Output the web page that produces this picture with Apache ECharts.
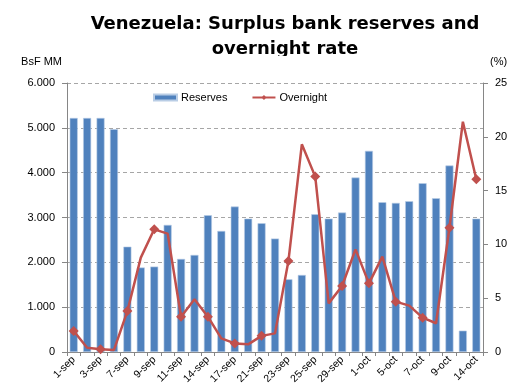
<!DOCTYPE html>
<html><head><meta charset="utf-8">
<script src="https://cdn.jsdelivr.net/npm/echarts@6/dist/echarts.min.js"></script>
<style>html,body{margin:0;padding:0;background:#fff}#c{width:516px;height:392px}</style>
</head><body><div id="c"></div>
<script>
const categories = ['1-sep','2-sep','3-sep','4-sep','7-sep','8-sep','9-sep','10-sep','11-sep','13-sep','14-sep','16-sep','17-sep','18-sep','21-sep','22-sep','23-sep','24-sep','25-sep','28-sep','29-sep','30-sep','1-oct','2-oct','5-oct','6-oct','7-oct','8-oct','9-oct','13-oct','14-oct'];
const reserves = [5220,5220,5220,4970,2350,1885,1905,2835,2076,2165,3050,2700,3244,2976,2872,2530,1622,1718,3072,2976,3110,3891,4487,3341,3326,3363,3765,3430,4159,476,2976];
const overnight = [1.95,0.4,0.25,0.19,3.8,8.77,11.4,11.0,3.28,4.9,3.28,1.27,0.8,0.71,1.5,1.73,8.45,19.3,16.3,4.52,6.13,9.54,6.38,8.86,4.68,4.31,3.19,2.67,11.55,21.4,16.05];
const leftTicks = {min:0, max:6000, interval:1000};
const rightTicks = {min:0, max:25, interval:5};

const fmtThousands = v => v === 0 ? '0' : (Math.floor(v/1000) + '.' + String(v%1000).padStart(3,'0'));
const font = 'Liberation Sans, Arial, sans-serif';
const chart = echarts.init(document.getElementById('c'));
chart.setOption({
  animation:false,
  title:{text:'Venezuela: Surplus bank reserves and\novernight rate', left:280, textAlign:'center', top:7,
    textStyle:{fontFamily:'DejaVu Sans, Verdana, sans-serif', fontWeight:'bold', fontSize:18, lineHeight:25, color:'#000'}},
  graphic:[{type:'rect', shape:{x:90,y:56,width:390,height:8}, style:{fill:'#fff'}, z:100}],
  legend:{left:148, top:87, itemGap:24, itemWidth:23, itemHeight:6,
    textStyle:{fontFamily:font, fontSize:11, color:'#000', padding:[0,0,0,-1]},
    data:[{name:'Reserves', icon:'rect'},{name:'Overnight'}]},
  grid:{left:67, right:33, top:83, bottom:40, containLabel:false},
  xAxis:{type:'category', data:categories, boundaryGap:true,
    axisLine:{lineStyle:{color:'#868686'}},
    axisTick:{show:true, interval:0, length:4, lineStyle:{color:'#868686'}},
    axisLabel:{interval:1, rotate:45, fontFamily:font, fontSize:10.5, color:'#000', margin:6}},
  yAxis:[
    {type:'value', name:'BsF MM', nameLocation:'end', nameGap:16, nameTextStyle:{fontFamily:font, fontSize:11, color:'#000', align:'right', padding:[0,5,0,0]},
      min:leftTicks.min, max:leftTicks.max, interval:leftTicks.interval, position:'left',
      axisLine:{show:true, lineStyle:{color:'#868686'}},
      axisTick:{show:true, length:5, lineStyle:{color:'#868686'}},
      axisLabel:{formatter:fmtThousands, fontFamily:font, fontSize:11, color:'#000', margin:12},
      splitLine:{show:true, lineStyle:{color:'#a6a6a6', type:[4,3]}}},
    {type:'value', name:'(%)', nameLocation:'end', nameGap:16, nameTextStyle:{fontFamily:font, fontSize:11, color:'#000', align:'left', padding:[0,0,0,7]},
      min:rightTicks.min, max:rightTicks.max, interval:rightTicks.interval, position:'right',
      axisLine:{show:true, lineStyle:{color:'#868686'}},
      axisTick:{show:true, length:5, lineStyle:{color:'#868686'}},
      axisLabel:{fontFamily:font, fontSize:11, color:'#000', margin:12},
      splitLine:{show:false}}
  ],
  series:[
    {name:'Reserves', type:'bar', data:reserves, yAxisIndex:0, barWidth:8,
      itemStyle:{color:'#4F81BD', borderColor:'#b9cde5', borderWidth:0.6}},
    {name:'Overnight', type:'line', data:overnight, yAxisIndex:1, symbol:'diamond', symbolSize:10,
      lineStyle:{color:'#C0504D', width:2.5}, itemStyle:{color:'#C0504D'}}
  ]
});
</script></body></html>
